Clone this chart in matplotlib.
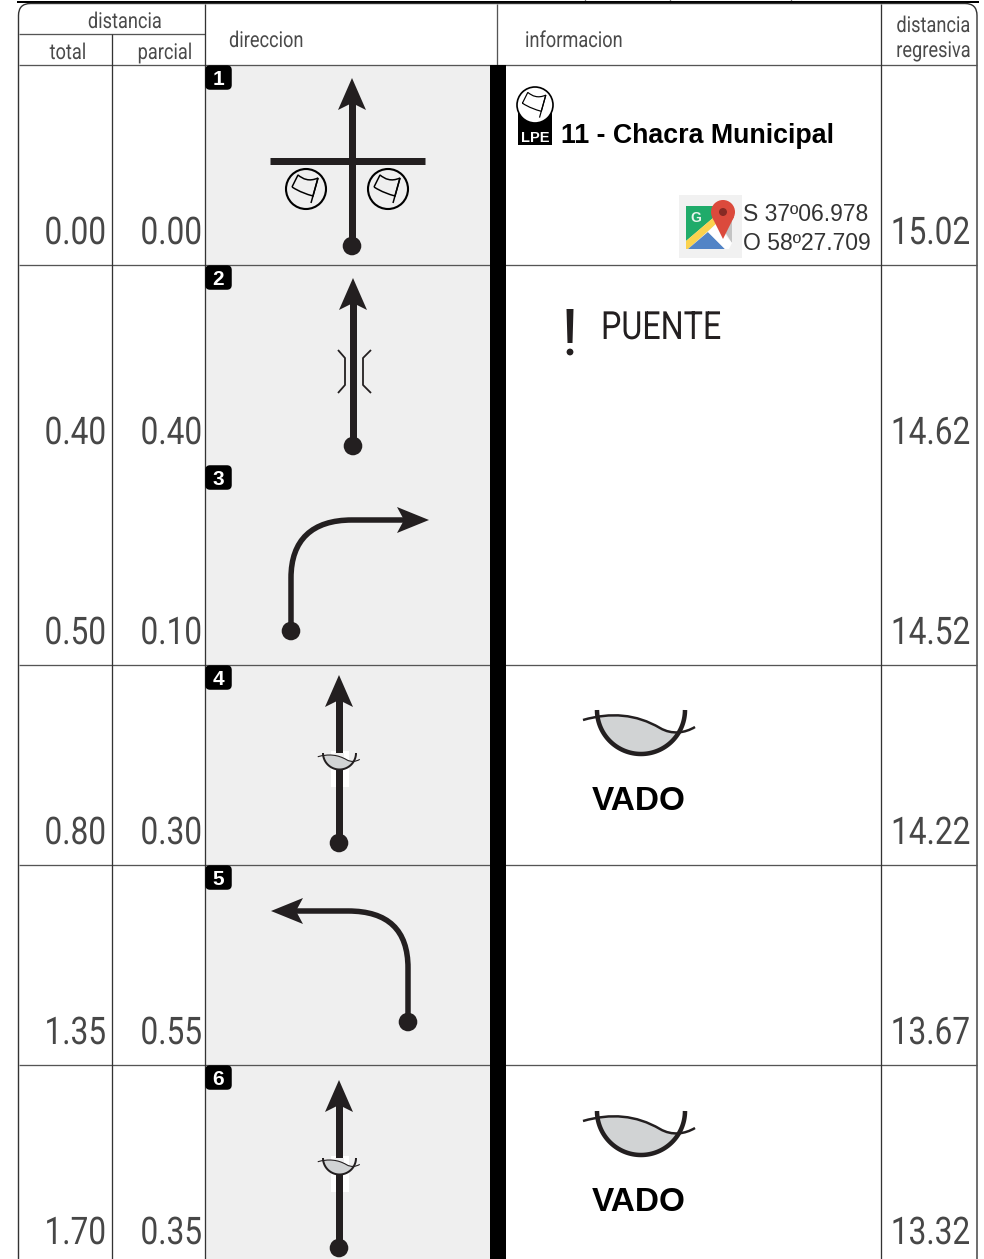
import matplotlib
matplotlib.use('Agg')
import matplotlib.pyplot as plt
import numpy as np
from matplotlib.patches import Circle, FancyBboxPatch, PathPatch, Polygon, Rectangle
from matplotlib.path import Path
from matplotlib.patheffects import AbstractPathEffect
from matplotlib.text import Text
from matplotlib.transforms import Affine2D, Bbox

# roadbook values
total = ['0.00', '0.40', '0.50', '0.80', '1.35', '1.70']
parcial = ['0.00', '0.40', '0.10', '0.30', '0.55', '0.35']
regresiva = ['15.02', '14.62', '14.52', '14.22', '13.67', '13.32']
steps = ['1', '2', '3', '4', '5', '6']
headers = ['distancia', 'total', 'parcial', 'direccion', 'informacion', 'distancia', 'regresiva']
place = '11 - Chacra Municipal'
coords = ['S 37º06.978', 'O 58º27.709']

W, H = 984, 1259
THIN = 'Roboto'
ARIAL = 'Liberation Sans'
DARK = '#231f20'
LINE = '#555555'
px = 0.72

fig = plt.figure(figsize=(W / 100, H / 100), dpi=100)
ax = fig.add_axes([0, 0, 1, 1])
ax.set_xlim(0, W)
ax.set_ylim(H, 0)
ax.axis('off')


class Squeeze(AbstractPathEffect):
    # narrows a text around x0, there is no condensed face to name
    def __init__(self, x0, sx):
        self.x0, self.sx = x0, sx

    def draw_path(self, renderer, gc, tpath, affine, rgbFace=None):
        shrink = Affine2D().translate(-self.x0, 0).scale(self.sx, 1).translate(self.x0, 0)
        renderer.draw_path(gc, tpath, affine + shrink, rgbFace)


def narrow(x, y, s, size, color, ha='left', sx=0.83):
    t = ax.text(x, y, s, family=THIN, fontsize=size, color=color, ha=ha, va='baseline', zorder=8)
    x0 = ax.transData.transform((x, y))[0]
    t.set_path_effects([Squeeze(x0, sx)])

    def extent(renderer=None, dpi=None):
        bb = Text.get_window_extent(t, renderer, dpi)
        return Bbox([[x0 + (bb.x0 - x0) * sx, bb.y0], [x0 + (bb.x1 - x0) * sx, bb.y1]])
    t.get_window_extent = extent
    return t


def line(xs, ys, color=LINE, w=1.3, z=3, cap='butt'):
    ax.plot(xs, ys, color=color, lw=w * px, zorder=z, solid_capstyle=cap, solid_joinstyle='round')


def shaft_head(tip, direction):
    # arrow head as a notched triangle, tip in pixels
    x, y = tip
    if direction == 'up':
        pts = [(x, y), (x + 14, y + 32), (x, y + 25), (x - 14, y + 32)]
    elif direction == 'right':
        pts = [(x, y), (x - 32, y + 13), (x - 25, y), (x - 32, y - 13)]
    else:
        pts = [(x, y), (x + 32, y + 13), (x + 25, y), (x + 32, y - 13)]
    ax.add_patch(Polygon(pts, closed=True, fc=DARK, ec='none', zorder=6))


def straight(x, tip, dot):
    line([x, x], [tip + 20, dot], DARK, 7, 5)
    shaft_head((x, tip), 'up')
    ax.add_patch(Circle((x, dot), 9.3, fc=DARK, ec='none', zorder=6))


def turn(verts, tip, direction, dot):
    codes = [Path.MOVETO, Path.LINETO, Path.CURVE4, Path.CURVE4, Path.CURVE4, Path.LINETO]
    ax.add_patch(PathPatch(Path(verts, codes), fc='none', ec=DARK, lw=5.5 * px, zorder=5))
    shaft_head(tip, direction)
    ax.add_patch(Circle(dot, 9.3, fc=DARK, ec='none', zorder=6))


def flag(cx, cy, r, lw=1.5, fill='none', z=6):
    ax.add_patch(Circle((cx, cy), r, fc=fill, ec='black', lw=lw * 1.4 * px, zorder=z))
    s = r / 20
    v = [(-14, -2), (-8, -14), (-3, -10), (3, -7), (12, -11), (7, 7), (0, 5), (-6, 3), (-14, -2)]
    c = [Path.MOVETO, Path.LINETO, Path.CURVE4, Path.CURVE4, Path.CURVE4, Path.LINETO,
         Path.CURVE4, Path.CURVE4, Path.CURVE4]
    pts = [(cx + a * s, cy + b * s) for a, b in v]
    ax.add_patch(PathPatch(Path(pts, c), fc='none', ec='black', lw=lw * px, zorder=z))
    line([cx + 12 * s, cx + 5 * s], [cy - 11 * s, cy + 14 * s], 'black', lw, z)


def ford(cx, top, r, lw):
    # half circle with the water level across it, size from the radius
    s = r / 44
    verts = [(-58, 10), (-30, 2), (-5, 4), (19, 18), (31, 25), (44, 23), (54, 17)]
    codes = [Path.MOVETO] + [Path.CURVE4] * 6
    w = [(cx + a * s, top + b * s) for a, b in verts]
    fill = w + [(cx + 60 * s, top + 70 * s), (cx - 60 * s, top + 70 * s), w[0]]
    fcodes = codes + [Path.LINETO, Path.LINETO, Path.LINETO]
    clip = Circle((cx, top), r, transform=ax.transData)
    p = PathPatch(Path(fill, fcodes), fc='#d1d3d4', ec='none', zorder=6)
    ax.add_patch(p)
    p.set_clip_path(clip)
    ang = np.linspace(0, np.pi, 80)
    line(cx + r * np.cos(ang), top + r * np.sin(ang), DARK, lw, 7)
    ax.add_patch(PathPatch(Path(w, codes), fc='none', ec=DARK, lw=lw * 0.55 * px, zorder=7))


# grey direction column and black bar
ax.add_patch(Rectangle((205.5, 65), 284.5, H - 65, fc='#efefef', ec='none', zorder=1))
ax.add_patch(Rectangle((489.5, 65), 16.5, H - 65, fc='black', ec='none', zorder=4))

# top strip from the previous page
line([17, 979], [1.5, 1.5], 'black', 2, 3)
for xt in [585, 670, 791]:
    line([xt, xt], [0, 2], 'black', 1.3, 3)

# frame with rounded top corners
r = 12
fx0, fx1, fy0 = 18.5, 977, 3.5
fv = [(fx0, H), (fx0, fy0 + r), (fx0, fy0), (fx0 + r, fy0), (fx1 - r, fy0), (fx1, fy0), (fx1, fy0 + r), (fx1, H)]
fc = [Path.MOVETO, Path.LINETO, Path.CURVE3, Path.CURVE3, Path.LINETO, Path.CURVE3, Path.CURVE3, Path.LINETO]
ax.add_patch(PathPatch(Path(fv, fc), fc='none', ec='#333333', lw=1.4 * px, zorder=3))

# grid
for yy in [65, 265, 665, 865, 1065]:
    line([fx0, fx1], [yy, yy])
line([fx0, 205], [34, 34])
for xx, y0 in [(112, 34), (205, 3.5), (880.5, 3.5)]:
    line([xx, xx], [y0, H], '#333333', 1.3, 3)
line([497, 497], [3.5, 65])

# headers
hc = '#4a4a4a'
narrow(125, 28, headers[0], 15.8, hc, 'center')
narrow(68, 59, headers[1], 15.8, hc, 'center')
narrow(165, 59, headers[2], 15.8, hc, 'center')
narrow(229, 47, headers[3], 15.8, hc)
narrow(525, 47, headers[4], 15.8, hc)
narrow(933.5, 32, headers[5], 15.8, hc, 'center')
narrow(933.5, 57, headers[6], 15.8, hc, 'center')

# distances and step badges
for i in range(len(steps)):
    top = 65 + 200 * i
    base = top + 179
    nc = '#474747'
    narrow(106, base, total[i], 27.4, nc, 'right')
    narrow(202, base, parcial[i], 27.4, nc, 'right')
    narrow(970, base, regresiva[i], 27.4, nc, 'right')
    ax.add_patch(FancyBboxPatch((206, top + 1), 25, 23, boxstyle='round,pad=0,rounding_size=4',
                                fc='black', ec='black', lw=1.5 * px, zorder=8))
    ax.text(218.5, top + 20, steps[i], family=ARIAL, weight='bold', fontsize=15, color='white',
            ha='center', va='baseline', zorder=9)

# step 1
straight(352, 78, 246)
line([270, 425], [161, 161], DARK, 7, 5)
flag(306, 189, 20)
flag(388, 189, 20)

# step 2, bridge
straight(353, 278, 446)
line([338, 345, 345, 338], [350, 358, 385, 393], DARK, 1.8, 6)
line([371, 363, 363, 371], [350, 358, 385, 393], DARK, 1.8, 6)

# step 3, right turn
turn([(291, 631), (291, 578), (291, 540), (312, 520), (352, 520), (410, 520)], (429, 520), 'right', (291, 631))

# step 4, small ford
for off in [0, 405]:
    ax.add_patch(Rectangle((331, 751 + off), 18, 36, fc='white', ec='none', zorder=2))
straight(339, 675, 843)
ax.add_patch(Rectangle((335, 753), 9, 16, fc='#efefef', ec='none', zorder=5.5))
ford(339.5, 753, 16.5, 2)

# step 5, left turn
turn([(408, 1022), (408, 968), (408, 930), (388, 911), (348, 911), (290, 911)], (271, 911), 'left', (408, 1022))

# step 6, small ford
straight(339, 1080, 1248)
ax.add_patch(Rectangle((335, 1158), 9, 16, fc='#efefef', ec='none', zorder=5.5))
ford(339.5, 1158, 16.5, 2)

# information column
ax.add_patch(Rectangle((518, 112), 34, 33, fc='black', ec='none', zorder=5))
flag(535, 105, 18, 1.2, 'white', 6)
ax.text(535, 142, 'LPE', family=ARIAL, weight='bold', fontsize=10.5, color='white', ha='center', va='baseline', zorder=7)
ax.text(561, 143, place, family=ARIAL, weight='bold', fontsize=19.3, color='black', ha='left', va='baseline')

# maps icon
ax.add_patch(Rectangle((679, 195), 63, 63, fc='#f1f1f1', ec='none', zorder=2))
ax.add_patch(Polygon([(716, 218), (732, 218), (732, 243)], fc='#c4c4c4', ec='none', zorder=3))
ax.add_patch(Polygon([(686, 206), (713, 206), (713, 218), (686, 241)], fc='#1fab6a', ec='none', zorder=4))
ax.add_patch(Polygon([(686, 241), (713, 218), (716, 224), (688, 249), (686, 249)], fc='#fbd24e', ec='none', zorder=4))
ax.add_patch(Polygon([(688, 249), (708, 232), (725, 249)], fc='#5284c6', ec='none', zorder=4))
ax.add_patch(Polygon([(708, 232), (716, 224), (732, 243), (729, 249), (725, 249)], fc='white', ec='none', zorder=4))
ax.text(696, 222, 'G', family=ARIAL, weight='bold', fontsize=10, color='#e6f4ec', ha='center', va='baseline', zorder=5)
ax.add_patch(Circle((723, 212), 12, fc='#db4a3c', ec='none', zorder=6))
ax.add_patch(Polygon([(712, 217), (734, 217), (723, 239)], fc='#db4a3c', ec='none', zorder=6))
ax.add_patch(Circle((723, 212), 4, fc='#862a24', ec='none', zorder=7))
ax.text(743, 221, coords[0], family=ARIAL, fontsize=16.5, color='#333333', ha='left', va='baseline')
ax.text(743, 250, coords[1], family=ARIAL, fontsize=16.5, color='#333333', ha='left', va='baseline')

# bridge note
ax.add_patch(Polygon([(566.5, 309), (573.5, 309), (572.5, 343), (567.5, 343)], fc=DARK, ec='none', zorder=5))
ax.add_patch(Circle((570, 352), 3.4, fc=DARK, ec='none', zorder=5))
narrow(601, 339, 'PUENTE', 28, DARK, sx=0.83)

# fords
for off in [0, 401]:
    ford(641, 710 + off, 44, 4.5)
    ax.text(639, 810 + off, 'VADO', family=ARIAL, weight='bold', fontsize=24, color='black', ha='center', va='baseline')

fig.savefig('out.png', dpi=100, facecolor='white')
